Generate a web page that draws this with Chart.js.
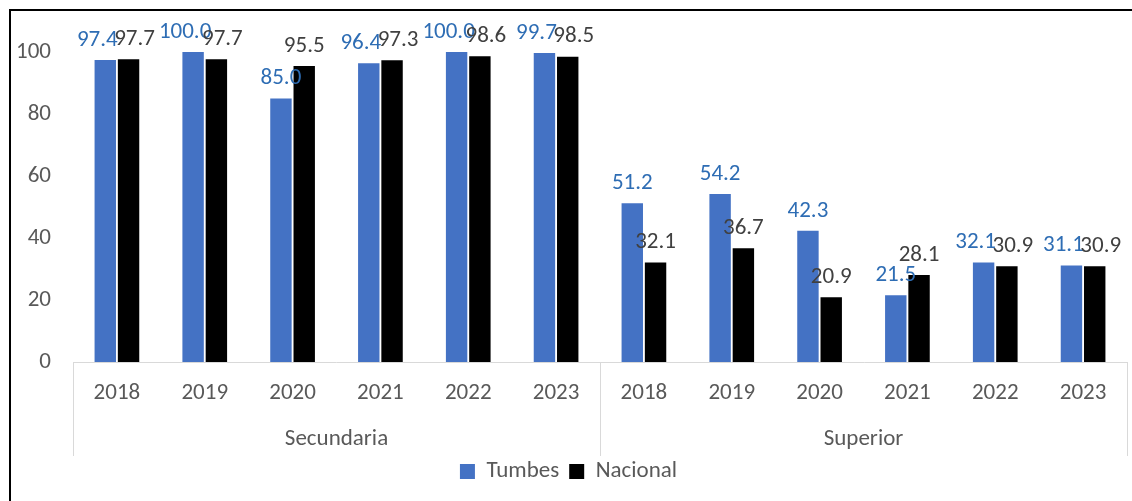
<!DOCTYPE html>
<html>
<head>
<meta charset="utf-8">
<script src="https://cdn.jsdelivr.net/npm/chart.js@4.4.1/dist/chart.umd.min.js"></script>
<style>
  html, body { margin: 0; padding: 0; background: #fff; }
  #wrap { position: relative; width: 1132px; height: 501px; }
  #frame { position: absolute; left: 9px; top: 9px; right: 0; bottom: 0;
           border-top: 2px solid #000; border-left: 2px solid #000; pointer-events: none; }
</style>
</head>
<body>
<div id="wrap">
  <canvas id="chart" width="1132" height="501"></canvas>
  <div id="frame"></div>
</div>
<script>
// --- data ---
const YEARS   = ['2018', '2019', '2020', '2021', '2022', '2023',
                 '2018', '2019', '2020', '2021', '2022', '2023'];
const GROUPS  = ['Secundaria', 'Superior'];
const TUMBES  = [97.4, 100.0, 85.0, 96.4, 100.0, 99.7, 51.2, 54.2, 42.3, 21.5, 32.1, 31.1];
const NACIONAL = [97.7, 97.7, 95.5, 97.3, 98.6, 98.5, 32.1, 36.7, 20.9, 28.1, 30.9, 30.9];
const Y_TICKS = [0, 20, 40, 60, 80, 100];

const FONT = 'Calibri, Carlito, Lato, sans-serif';
const FONT_SIZE = 23;
const TEXT_GREY = '#595959';
const LABEL_COLORS = ['#2E6DB4', '#404040'];   // Tumbes · Nacional value labels
const LABEL_NUDGE = [-8, 6];                   // x shift when the two labels collide

// value labels above each bar (Excel-style "outside end")
const valueLabels = {
  id: 'valueLabels',
  afterDatasetsDraw(chart) {
    const { ctx } = chart;
    const metas = chart.data.datasets.map((_, di) => chart.getDatasetMeta(di));
    ctx.save();
    ctx.font = FONT_SIZE + 'px ' + FONT;
    ctx.textAlign = 'center';
    ctx.textBaseline = 'middle';
    YEARS.forEach((_, i) => {
      const ys = metas.map(m => Math.max(m.data[i].y - 20, 31));
      const clash = Math.abs(ys[0] - ys[1]) < 14;
      metas.forEach((m, di) => {
        const bar = m.data[i];
        ctx.fillStyle = LABEL_COLORS[di];
        const x = bar.x + (clash ? LABEL_NUDGE[di] : 0);
        ctx.fillText(chart.data.datasets[di].data[i].toFixed(1), x, ys[di]);
      });
    });
    ctx.restore();
  },
};

// light grey dividers between the two groups on the category axis
const groupDividers = {
  id: 'groupDividers',
  afterDraw(chart) {
    const x = chart.scales.x, x2 = chart.scales.x2;
    const half = (x.getPixelForValue(1) - x.getPixelForValue(0)) / 2;
    const per = YEARS.length / GROUPS.length;
    const xs = [x.left];
    for (let g = 1; g < GROUPS.length; g++) xs.push(x.getPixelForValue(g * per - 1) + half);
    xs.push(x.right);
    const { ctx } = chart;
    ctx.save();
    ctx.strokeStyle = '#D9D9D9';
    ctx.lineWidth = 1;
    xs.forEach(px => {
      const p = Math.round(px) + 0.5;
      ctx.beginPath();
      ctx.moveTo(p, x.top);
      ctx.lineTo(p, x2.bottom + 6);
      ctx.stroke();
    });
    ctx.restore();
  },
};

new Chart(document.getElementById('chart'), {
  type: 'bar',
  data: {
    labels: YEARS,
    datasets: [
      { label: 'Tumbes',   data: TUMBES,   backgroundColor: '#4472C4' },
      { label: 'Nacional', data: NACIONAL, backgroundColor: '#000000' },
    ],
  },
  options: {
    responsive: false,
    animation: false,
    categoryPercentage: 0.53,
    barPercentage: 0.92,
    layout: { padding: { left: 10, right: 5, top: 52, bottom: 8 } },
    scales: {
      y: {
        min: 0, max: 100,
        afterBuildTicks: s => { s.ticks = Y_TICKS.map(v => ({ value: v })); },
        afterFit: s => { s.width = 63; },
        grid: { display: false, drawTicks: false },
        border: { display: false },
        ticks: { color: TEXT_GREY, font: { family: FONT, size: FONT_SIZE }, padding: 22 },
      },
      x: {
        weight: 0,
        afterFit: s => { s.height = 55; },
        grid: { display: false, drawTicks: false },
        border: { color: '#D9D9D9', width: 1 },
        ticks: { color: TEXT_GREY, font: { family: FONT, size: FONT_SIZE }, padding: 17, maxRotation: 0, autoSkip: false },
      },
      x2: {
        type: 'category',
        labels: GROUPS,
        position: 'bottom',
        offset: true,
        weight: 1,
        afterFit: s => { s.height = 33; },
        grid: { display: false, drawTicks: false },
        border: { display: false },
        ticks: { color: TEXT_GREY, font: { family: FONT, size: FONT_SIZE }, padding: 8, maxRotation: 0 },
      },
    },
    plugins: {
      legend: {
        position: 'bottom',
        labels: {
          color: TEXT_GREY,
          font: { family: FONT, size: FONT_SIZE },
          boxWidth: 15, boxHeight: 15, padding: 10,
        },
      },
      tooltip: { enabled: false },
    },
  },
  plugins: [valueLabels, groupDividers],
});
</script>
</body>
</html>
